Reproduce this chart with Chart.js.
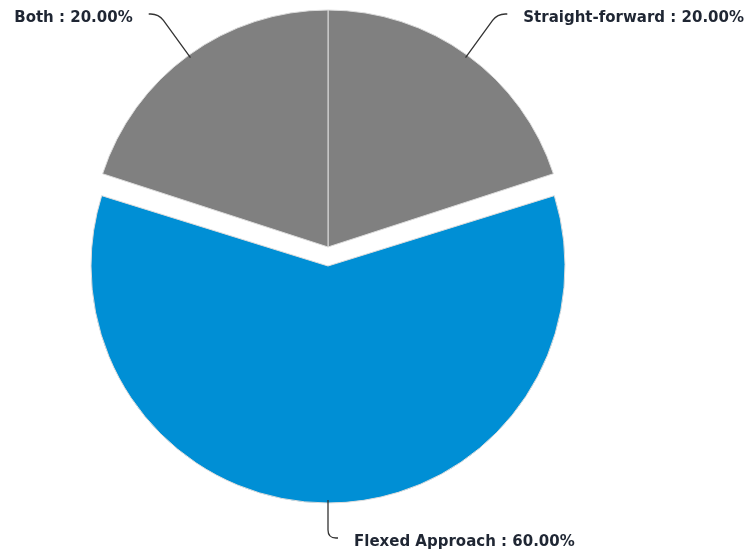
<!DOCTYPE html>
<html>
<head>
<meta charset="utf-8">
<script src="https://cdn.jsdelivr.net/npm/chart.js@4.4.0/dist/chart.umd.min.js"></script>
<style>
  html, body { margin: 0; padding: 0; background: #fff; }
  #wrap { width: 753px; height: 558px; position: relative; }
</style>
</head>
<body>
<div id="wrap"><canvas id="pieChart"></canvas></div>
<script>
const categories = ["Straight-forward", "Flexed Approach", "Both"];
const shares = [20, 60, 20];
const sliceColors = ["#808080", "#008fd5", "#808080"];
const sliceOffsets = [0, 76, 0];

// Chart.js grows big offset slices by offset/4, undo that so all slices keep one radius
function radiusGrowth(arc, offset) {
  return (offset || 0) / 4 * (1 - Math.sin(Math.min(Math.PI, arc.circumference)));
}

const keepRadius = {
  id: "keepRadius",
  afterUpdate(chart) {
    const ds = chart.data.datasets[0];
    chart.getDatasetMeta(0).data.forEach((arc, i) => {
      arc.outerRadius -= radiusGrowth(arc, ds.offset[i]);
    });
  }
};

// draws "label : xx.xx%" with a curved leader line for every slice
const leaderLabels = {
  id: "leaderLabels",
  afterDatasetsDraw(chart, args, opts) {
    const ctx = chart.ctx;
    const meta = chart.getDatasetMeta(0);
    const ds = chart.data.datasets[0];
    const total = ds.data.reduce((a, b) => a + b, 0);
    ctx.save();
    ctx.font = opts.font;
    ctx.textBaseline = "middle";
    meta.data.forEach((arc, i) => {
      const p = arc.getProps(["x", "y", "startAngle", "endAngle", "outerRadius"], true);
      const mid = (p.startAngle + p.endAngle) / 2;
      const dx = Math.cos(mid), dy = Math.sin(mid);
      const shift = (ds.offset[i] || 0) / 4;
      const cx = p.x + dx * shift;
      const cy = p.y + dy * shift;
      const r = p.outerRadius + radiusGrowth(arc, ds.offset[i]);
      const reach = opts.reach[i];
      const side = dx >= -0.001 ? 1 : -1;
      const sx = cx + dx * (r - opts.inset), sy = cy + dy * (r - opts.inset);
      const bx = cx + dx * (r + reach - opts.bend), by = cy + dy * (r + reach - opts.bend);
      const ex = cx + dx * (r + reach), ey = cy + dy * (r + reach);

      ctx.beginPath();
      ctx.moveTo(sx, sy);
      ctx.lineTo(bx, by);
      ctx.quadraticCurveTo(ex, ey, ex + side * opts.bend, ey);
      ctx.lineTo(ex + side * opts.tail, ey);
      ctx.strokeStyle = opts.lineColor;
      ctx.lineWidth = 1.3;
      ctx.stroke();

      const pct = (ds.data[i] / total * 100).toFixed(2);
      const text = chart.data.labels[i] + " : " + pct + "%";
      ctx.fillStyle = opts.color;
      ctx.textAlign = side > 0 ? "left" : "right";
      ctx.fillText(text, ex + side * (opts.tail + opts.gap), ey + 4);
    });
    ctx.restore();
  }
};

const pieChart = new Chart(document.getElementById("pieChart"), {
  type: "pie",
  data: {
    labels: categories,
    datasets: [{
      data: shares,
      backgroundColor: sliceColors,
      borderColor: "#dcdcdc",
      borderWidth: 1,
      offset: sliceOffsets,
      clip: false
    }]
  },
  options: {
    responsive: true,
    maintainAspectRatio: false,
    animation: false,
    radius: 237,
    layout: { padding: { left: 0, right: 97, top: 0, bottom: 64 } },
    plugins: {
      legend: { display: false },
      tooltip: { enabled: false },
      leaderLabels: {
        reach: [51, 35, 51],
        inset: 3,
        bend: 8,
        tail: 10,
        gap: 16,
        font: "bold 15px 'DejaVu Sans'",
        color: "#1f2633",
        lineColor: "#333"
      }
    }
  },
  plugins: [keepRadius, leaderLabels]
});
</script>
</body>
</html>
